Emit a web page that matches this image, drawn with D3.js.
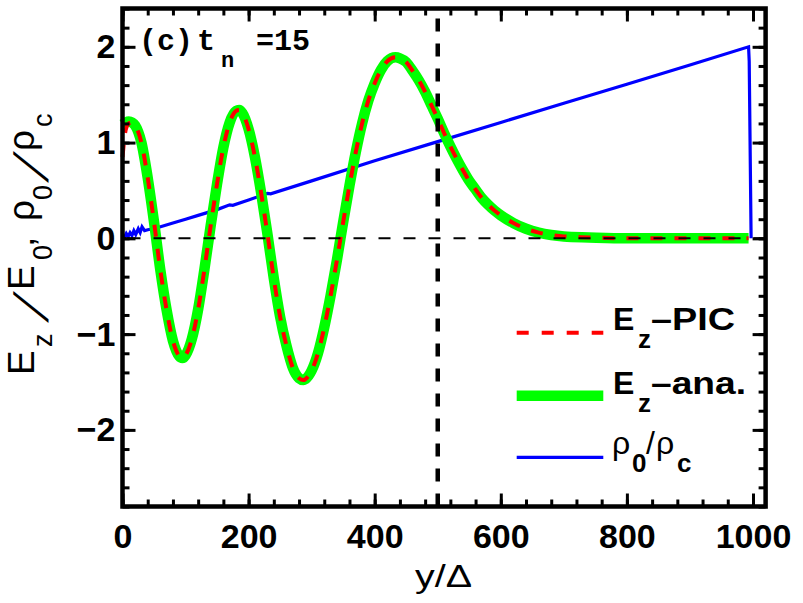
<!DOCTYPE html>
<html><head><meta charset="utf-8">
<script src="https://cdn.jsdelivr.net/npm/d3@7"></script>
<style>body{margin:0;background:#fff}</style>
</head><body>
<svg id="c" width="803" height="603"></svg>
<script>
// ---- data ----
const yPos  = [0,5,10,15,20,30,40,50,60,70,80,90,95,100,110,120,130,140,150,160,170,180,185,190,200,210,220,230,240,250,260,270,280,287,290,300,310,320,330,340,350,360,370,380,390,400,410,420,433,440,450,460,470,480,490,500,510,520,530,540,550,560,570,580,590,600,620,640,660,680,700,740,800,900,993];
const ezAna = [1.19,1.21,1.22,1.21,1.18,1.00,0.63,0.17,-0.33,-0.75,-1.07,-1.23,-1.25,-1.22,-1.05,-0.74,-0.32,0.14,0.57,0.95,1.21,1.33,1.34,1.31,1.14,0.85,0.47,0.04,-0.42,-0.82,-1.12,-1.35,-1.46,-1.48,-1.47,-1.38,-1.20,-0.93,-0.60,-0.23,0.17,0.55,0.90,1.20,1.44,1.62,1.76,1.85,1.89,1.88,1.84,1.75,1.65,1.53,1.39,1.25,1.10,0.96,0.83,0.71,0.60,0.51,0.42,0.35,0.29,0.24,0.16,0.10,0.06,0.035,0.02,0.01,0.0,0.0,0.0];
const ezPic = [0.85,1.13,1.20,1.21,1.18,1.00,0.63,0.17,-0.33,-0.75,-1.07,-1.23,-1.25,-1.22,-1.05,-0.74,-0.32,0.14,0.57,0.95,1.21,1.33,1.34,1.31,1.14,0.85,0.47,0.04,-0.42,-0.82,-1.12,-1.35,-1.46,-1.48,-1.47,-1.38,-1.20,-0.93,-0.60,-0.23,0.17,0.55,0.90,1.20,1.44,1.62,1.76,1.85,1.89,1.88,1.84,1.75,1.65,1.53,1.39,1.25,1.10,0.96,0.83,0.71,0.60,0.51,0.42,0.35,0.29,0.24,0.16,0.10,0.06,0.035,0.02,0.01,0.0,0.0,0.0];
const rhoPos = [0,3,6,9,12,15,18,21,25,28,31,35,40,50,80,100,120,150,170,175,200,230,235,300,400,500,600,700,800,900,993,994,997];
const rhoVal = [0.03,0.01,0.05,0.02,0.06,0.03,0.08,0.04,0.10,0.06,0.12,0.08,0.09,0.10,0.16,0.20,0.24,0.30,0.35,0.345,0.40,0.47,0.465,0.60,0.81,1.01,1.21,1.41,1.61,1.81,2.00,1.85,0.0];
const xTicks = [0,200,400,600,800,1000];
const yTicks = [-2,-1,0,1,2];
const cutoffPos = 500;

// ---- scales ----
const svg = d3.select("#c");
svg.append("rect").attr("width",803).attr("height",603).attr("fill","#fff");
const x = d3.scaleLinear().domain([0,1020]).range([122.5,765.6]);
const y = d3.scaleLinear().domain([-2.8,2.4]).range([506.5,8.5]);
const xMinor = d3.range(0,1021,40);
const yMinor = d3.range(-14,13).map(v=>+(v*0.2).toFixed(1));
const FONT = "'Liberation Sans', Arial, Helvetica, sans-serif";

// ---- curves ----
const lineOf = (xs) => d3.line().x((d,i)=>x(xs[i])).y(d=>y(d)).curve(d3.curveMonotoneX);
svg.append("path").attr("d", d3.line().x((d,i)=>x(rhoPos[i])).y(d=>y(d))(rhoVal))
  .attr("fill","none").attr("stroke","#0000ff").attr("stroke-width",3.2);
svg.append("path").attr("d", lineOf(yPos)(ezAna))
  .attr("fill","none").attr("stroke","#00ff00").attr("stroke-width",10.5);
svg.append("path").attr("d", lineOf(yPos)(ezPic))
  .attr("fill","none").attr("stroke","#ff0000").attr("stroke-width",4).attr("stroke-dasharray","12,12");

// reference lines
svg.append("line").attr("x1",x(0)).attr("x2",x(1020)).attr("y1",y(0)).attr("y2",y(0))
  .attr("stroke","#000").attr("stroke-width",2).attr("stroke-dasharray","12,13").attr("stroke-dashoffset",-6);
svg.append("line").attr("x1",x(cutoffPos)).attr("x2",x(cutoffPos)).attr("y1",y(2.4)).attr("y2",y(-2.8))
  .attr("stroke","#000").attr("stroke-width",4.5).attr("stroke-dasharray","13,12").attr("stroke-dashoffset",15);

// ---- axes ----
function styleAxis(g){
  g.select(".domain").remove();
  g.selectAll(".tick line").attr("stroke","#000").attr("stroke-width",3);
  g.selectAll("text").attr("font-family",FONT).attr("font-size",34).attr("font-weight","bold").attr("fill","#000");
}
const bottomY = y(-2.8), topY = y(2.4), leftX = x(0), rightX = x(1020);
svg.append("g").attr("transform",`translate(0,${bottomY})`)
  .call(d3.axisBottom(x).tickValues(xMinor).tickSize(-7).tickFormat("")).call(styleAxis);
svg.append("g").attr("transform",`translate(0,${bottomY})`)
  .call(d3.axisBottom(x).tickValues(xTicks).tickSize(-13).tickPadding(17).tickFormat(d3.format("d"))).call(styleAxis);
svg.append("g").attr("transform",`translate(0,${topY})`)
  .call(d3.axisTop(x).tickValues(xMinor).tickSize(-7).tickFormat("")).call(styleAxis);
svg.append("g").attr("transform",`translate(0,${topY})`)
  .call(d3.axisTop(x).tickValues(xTicks).tickSize(-13).tickFormat("")).call(styleAxis);
svg.append("g").attr("transform",`translate(${leftX},0)`)
  .call(d3.axisLeft(y).tickValues(yMinor).tickSize(-7).tickFormat("")).call(styleAxis);
svg.append("g").attr("transform",`translate(${leftX},0)`)
  .call(d3.axisLeft(y).tickValues(yTicks).tickSize(-13).tickPadding(7).tickFormat(d3.format("d"))).call(styleAxis);
svg.append("g").attr("transform",`translate(${rightX},0)`)
  .call(d3.axisRight(y).tickValues(yMinor).tickSize(-7).tickFormat("")).call(styleAxis);
svg.append("g").attr("transform",`translate(${rightX},0)`)
  .call(d3.axisRight(y).tickValues(yTicks).tickSize(-13).tickFormat("")).call(styleAxis);

svg.append("rect").attr("x",leftX).attr("y",topY).attr("width",rightX-leftX).attr("height",bottomY-topY)
  .attr("fill","none").attr("stroke","#000").attr("stroke-width",4.5);

// ---- axis titles ----
function txt(parent, s, px, py, size, weight, extra){
  const t = parent.append("text").attr("x",px).attr("y",py).text(s)
    .attr("font-family",FONT).attr("font-size",size).attr("font-weight",weight||"normal").attr("fill","#000");
  if (extra) extra(t);
  return t;
}
function slash(parent, px, py, size){
  return parent.append("text").attr("transform",`translate(${px},${py}) skewX(-28)`).text("/")
    .attr("text-anchor","middle").attr("font-family",FONT).attr("font-size",size).attr("fill","#000");
}
txt(svg,"y/Δ",443.5,587,32,"normal",t=>t.attr("text-anchor","middle").attr("textLength",57).attr("lengthAdjust","spacingAndGlyphs"));

const yt = svg.append("g").attr("transform","rotate(-90)");
txt(yt,"E",-375,33.5,37);
txt(yt,"z",-347,52,27);
slash(yt,-316,48,48);
txt(yt,"E",-290,33.5,37);
txt(yt,"0",-260,52,27);
txt(yt,",",-247,33.5,37);
txt(yt,"ρ",-221,33.5,37);
txt(yt,"0",-200,52,27);
slash(yt,-176,48,48);
txt(yt,"ρ",-151,33.5,37);
txt(yt,"c",-127,52,27);

// ---- panel title ----
const MONO = "'Liberation Mono', 'Courier New', monospace";
function mono(s, px, py, size){
  svg.append("text").attr("x",px).attr("y",py).text(s).attr("font-family",MONO)
    .attr("font-size",size).attr("font-weight","bold").attr("fill","#000");
}
mono("(c)",139,50,30);
mono("t",197,50,30);
mono("n",221,67,22);
mono("=15",256,50,30);

// ---- legend ----
const lgX1 = 516.7, lgX2 = 603.3;
svg.append("line").attr("x1",lgX1).attr("x2",lgX2).attr("y1",332.7).attr("y2",332.7)
  .attr("stroke","#ff0000").attr("stroke-width",4).attr("stroke-dasharray","12,13");
svg.append("line").attr("x1",lgX1).attr("x2",lgX2).attr("y1",395.7).attr("y2",395.7)
  .attr("stroke","#00ff00").attr("stroke-width",10.5);
svg.append("line").attr("x1",lgX1).attr("x2",lgX2).attr("y1",457.3).attr("y2",457.3)
  .attr("stroke","#0000ff").attr("stroke-width",3.2);

txt(svg,"E",613,330,32,"bold");
txt(svg,"z",638,348,26,"bold");
txt(svg,"–PIC",651,330,32,"bold",t=>t.attr("textLength",84).attr("lengthAdjust","spacingAndGlyphs"));
txt(svg,"E",613,393.5,32,"bold");
txt(svg,"z",638,411.5,26,"bold");
txt(svg,"–ana.",651,393.5,32,"bold",t=>t.attr("textLength",95).attr("lengthAdjust","spacingAndGlyphs"));
txt(svg,"ρ",612,453.5,32);
txt(svg,"0",632,472,26,"bold");
txt(svg,"/",646,453.5,32);
txt(svg,"ρ",656,453.5,32);
txt(svg,"c",677,472,26,"bold");
</script>
</body></html>
